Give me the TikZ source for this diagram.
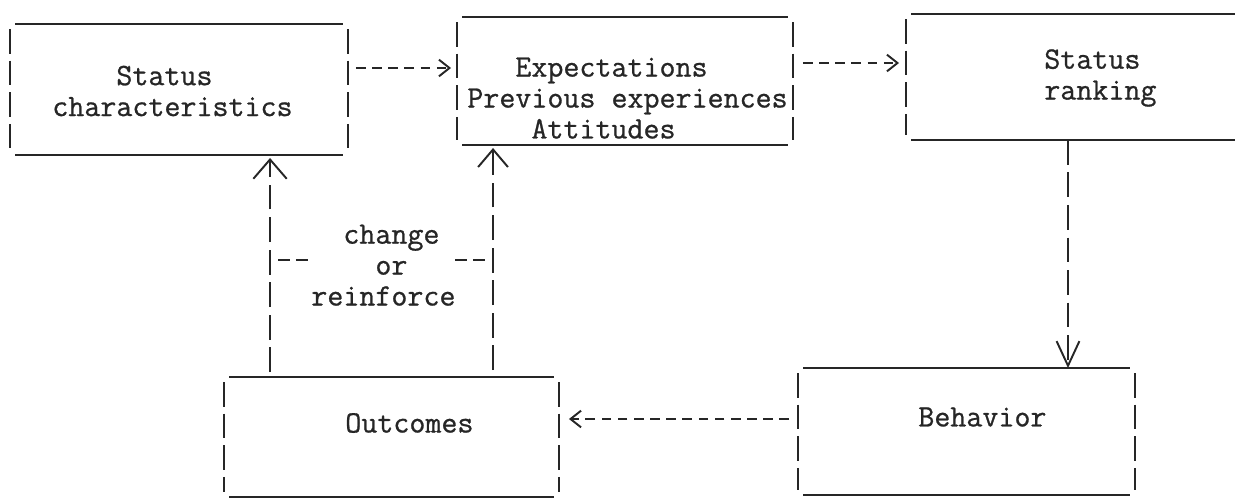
\documentclass[tikz,border=0pt]{standalone}
\usepackage{fontspec}
\newfontfamily\typew{Latin Modern Mono}[FakeBold=0.8]
\usetikzlibrary{arrows.meta, calc}
\definecolor{inkc}{RGB}{38,38,38}
\tikzset{
  boxshape/.style={inner sep=0pt, outer sep=0pt},
  edgeline/.style={line width=1pt, draw=inkc},
  sideline/.style={line width=1.1pt, draw=inkc, dash pattern=on 14pt off 4pt},
  conn/.style={line width=1.1pt, draw=inkc, dash pattern=on 5.5pt off 3.7pt,
    -{Straight Barb[length=6pt, width=9.5pt]}},
  vconn/.style={line width=1.1pt, draw=inkc, dash pattern=on 14pt off 4.5pt},
  tick/.style={line width=1.1pt, draw=inkc, dash pattern=on 6.8pt off 3.4pt},
  txt/.style={font=\typew\fontsize{17.7}{17.6}\selectfont, text=inkc,
    inner sep=0pt, align=left, anchor=west},
}
% name, centre, width, height
\newcommand{\typedbox}[4]{%
  \node[boxshape, minimum width=#3, minimum height=#4] (#1) at (#2) {};
  \draw[edgeline] ($(#1.north west)+(5,0)$) -- ($(#1.north east)+(-5,0)$);
  \draw[edgeline] ($(#1.south west)+(5,0)$) -- ($(#1.south east)+(-5,0)$);
  \draw[sideline] ($(#1.north west)+(0,5)$) -- ($(#1.south west)+(0,-5)$);
  \draw[sideline] ($(#1.north east)+(0,5)$) -- ($(#1.south east)+(0,-5)$);}

\begin{document}
\begin{tikzpicture}[x=0.02cm, y=-0.02cm]
  \useasboundingbox (0,0) rectangle (1235,501);
  % boxes
  \typedbox{stat}{179,89.5}{6.76cm}{2.62cm}
  \typedbox{expect}{625,81}{6.72cm}{2.56cm}
  \typedbox{rank}{1093,77}{7.48cm}{2.52cm}
  \typedbox{behav}{966.5,431.5}{6.74cm}{2.54cm}
  \typedbox{outc}{391.5,437}{6.7cm}{2.4cm}
  % texts
  \node[txt] (stat-t) at (52,91) {\phantom{0000}Status\\characteristics};
  \node[txt] (expect-t) at (467,98) {\phantom{000}Expectations\\Previous experiences\\\phantom{0000}Attitudes};
  \node[txt] (rank-t) at (1044,78) {Status\\ranking};
  \node[txt] (behav-t) at (918,417) {Behavior};
  \node[txt] (outc-t) at (345,423) {Outcomes};
  \node[txt] (why) at (311,265) {\phantom{00}change\\\phantom{0000}or\\reinforce};
  % connectors
  \draw[conn] ($(stat.east)+(8,-21.5)$) -- ($(expect.west)+(-6,-13)$);
  \draw[conn] ($(expect.east)+(10,-18)$) -- ($(rank.west)+(-7,-14)$);
  \coordinate (rk) at ($(rank.south)+(-25,0)$);
  \draw[vconn, -{Straight Barb[length=14pt, width=13pt]}] (rk) -- (rk |- behav.north);
  \draw[conn] ($(behav.west)+(-9,-12.5)$) -- ($(outc.east)+(10,-18)$);
  \coordinate (fbl) at ($(outc.north west)+(46,-5)$);
  \coordinate (fbr) at ($(outc.north west)+(269,-7)$);
  \draw[vconn, -{Straight Barb[length=11pt, width=19pt]}] (fbl) -- ($(fbl |- stat.south)+(0,3)$);
  \draw[vconn, -{Straight Barb[length=10pt, width=17pt]}] (fbr) -- ($(fbr |- expect.south)+(0,3)$);
  \draw[tick] ($(why.west)+(-33,-5)$) -- ++(30,0);
  \draw[tick] ($(why.west)+(144,-5)$) -- ++(30,0);
\end{tikzpicture}
\end{document}
